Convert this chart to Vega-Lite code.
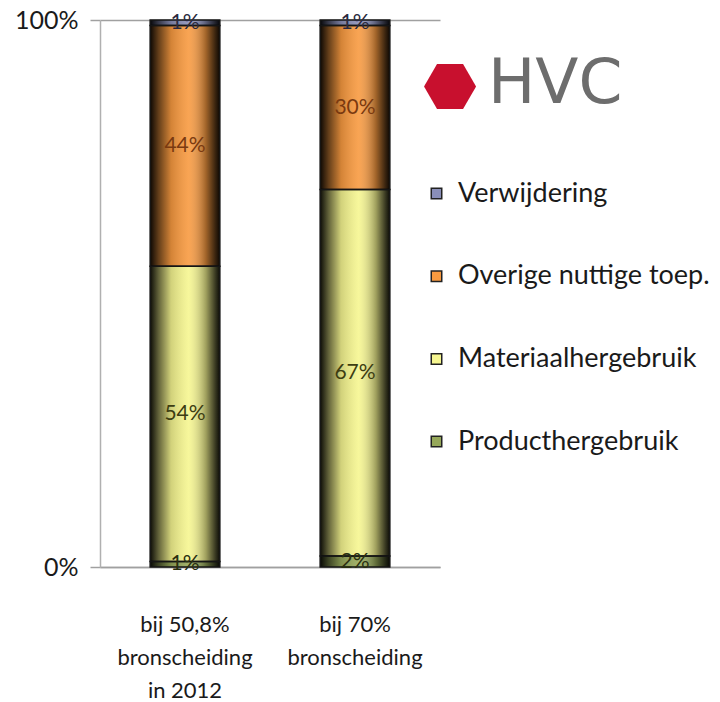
{
  "$schema": "https://vega.github.io/schema/vega-lite/v6.json",
  "width": 340,
  "height": 547,
  "autosize": {"type": "none"},
  "padding": {"left": 100, "top": 20, "right": 280, "bottom": 135},
  "background": "white",
  "config": {"view": {"stroke": null}, "font": "Lato"},
  "title": {
    "text": "HVC",
    "anchor": "start",
    "frame": "group",
    "orient": "top",
    "dx": 388,
    "dy": 108,
    "offset": 0,
    "baseline": "top",
    "fontSize": 63,
    "font": "DejaVu Sans",
    "fontWeight": "normal",
    "color": "#6d6d6d"
  },
  "data": {
    "values": [
      {"cat": "bij 50,8% bronscheiding in 2012", "series": "Producthergebruik", "ord": 1, "value": 0.01},
      {"cat": "bij 50,8% bronscheiding in 2012", "series": "Materiaalhergebruik", "ord": 2, "value": 0.54},
      {"cat": "bij 50,8% bronscheiding in 2012", "series": "Overige nuttige toep.", "ord": 3, "value": 0.44},
      {"cat": "bij 50,8% bronscheiding in 2012", "series": "Verwijdering", "ord": 4, "value": 0.01},
      {"cat": "bij 70% bronscheiding", "series": "Producthergebruik", "ord": 1, "value": 0.02},
      {"cat": "bij 70% bronscheiding", "series": "Materiaalhergebruik", "ord": 2, "value": 0.67},
      {"cat": "bij 70% bronscheiding", "series": "Overige nuttige toep.", "ord": 3, "value": 0.30},
      {"cat": "bij 70% bronscheiding", "series": "Verwijdering", "ord": 4, "value": 0.01}
    ]
  },
  "transform": [
    {"stack": "value", "groupby": ["cat"], "sort": [{"field": "ord", "order": "ascending"}], "as": ["v0", "v1"]},
    {"calculate": "(datum.v0 + datum.v1) / 2", "as": "mid"}
  ],
  "encoding": {
    "x": {
      "field": "cat",
      "type": "nominal",
      "sort": ["bij 50,8% bronscheiding in 2012", "bij 70% bronscheiding"],
      "scale": {"paddingInner": 0.59, "paddingOuter": 0.295},
      "axis": {
        "title": null,
        "labelAngle": 0,
        "ticks": false,
        "domain": true,
        "domainColor": "#a0a0a0",
        "domainWidth": 1.5,
        "labelFontSize": 22,
        "labelColor": "#1a1a1a",
        "labelLineHeight": 33,
        "labelBaseline": "top",
        "labelPadding": 47,
        "labelExpr": "datum.value == 'bij 70% bronscheiding' ? ['bij 70%', 'bronscheiding'] : ['bij 50,8%', 'bronscheiding', 'in 2012']"
      }
    }
  },
  "layer": [
    {
      "mark": {"type": "bar"},
      "encoding": {
        "y": {
          "field": "v0",
          "type": "quantitative",
          "scale": {"domain": [0, 1]},
          "axis": {
            "title": null,
            "values": [0, 1],
            "format": ".0%",
            "grid": true,
            "gridColor": "#a0a0a0",
            "gridWidth": 1.5,
            "tickSize": 10,
            "tickColor": "#a0a0a0",
            "tickWidth": 1.5,
            "domainColor": "#b0b0b0",
            "domainWidth": 1.5,
            "labelFontSize": 25,
            "labelColor": "#1a1a1a",
            "labelPadding": 12
          }
        },
        "y2": {"field": "v1"},
        "color": {
          "field": "series",
          "type": "nominal",
          "scale": {
            "domain": ["Verwijdering", "Overige nuttige toep.", "Materiaalhergebruik", "Producthergebruik"],
            "range": ["#8a8fb8", "#f89a40", "#f6f690", "#96a85a"]
          },
          "legend": {
            "orient": "none",
            "legendX": 323,
            "legendY": 38,
            "title": "⬣",
            "titleFont": "DejaVu Sans",
            "titleFontSize": 62,
            "titleFontWeight": "normal",
            "titleColor": "#c8102e",
            "titlePadding": 60,
            "rowPadding": 54.7,
            "labelFontSize": 27,
            "labelLimit": 400,
            "labelColor": "#1a1a1a",
            "labelOffset": 8,
            "symbolType": "square",
            "symbolSize": 110,
            "symbolStrokeColor": "#222222",
            "symbolStrokeWidth": 1.5
          }
        }
      }
    },
    {
      "mark": {
        "type": "bar",
        "stroke": "#151515",
        "strokeWidth": 1.5,
        "fill": {
          "gradient": "linear",
          "x1": 0, "x2": 1, "y1": 0, "y2": 0,
          "stops": [
            {"offset": 0, "color": "rgba(0,0,0,0.95)"},
            {"offset": 0.12, "color": "rgba(0,0,0,0.6)"},
            {"offset": 0.3, "color": "rgba(0,0,0,0.15)"},
            {"offset": 0.55, "color": "rgba(255,255,255,0.1)"},
            {"offset": 0.8, "color": "rgba(0,0,0,0.35)"},
            {"offset": 0.93, "color": "rgba(0,0,0,0.75)"},
            {"offset": 1, "color": "rgba(0,0,0,0.95)"}
          ]
        }
      },
      "encoding": {
        "y": {"field": "v0", "type": "quantitative"},
        "y2": {"field": "v1"}
      }
    },
    {
      "mark": {"type": "text", "fontSize": 21, "baseline": "middle", "align": "center"},
      "encoding": {
        "y": {"field": "mid", "type": "quantitative"},
        "text": {"field": "value", "type": "quantitative", "format": ".0%"},
        "color": {
          "field": "series",
          "type": "nominal",
          "scale": {
            "domain": ["Verwijdering", "Overige nuttige toep.", "Materiaalhergebruik", "Producthergebruik"],
            "range": ["#2a2a40", "#7a3a10", "#3d3d12", "#2a3010"]
          },
          "legend": null
        }
      }
    }
  ],
  "resolve": {"scale": {"color": "independent"}}
}
